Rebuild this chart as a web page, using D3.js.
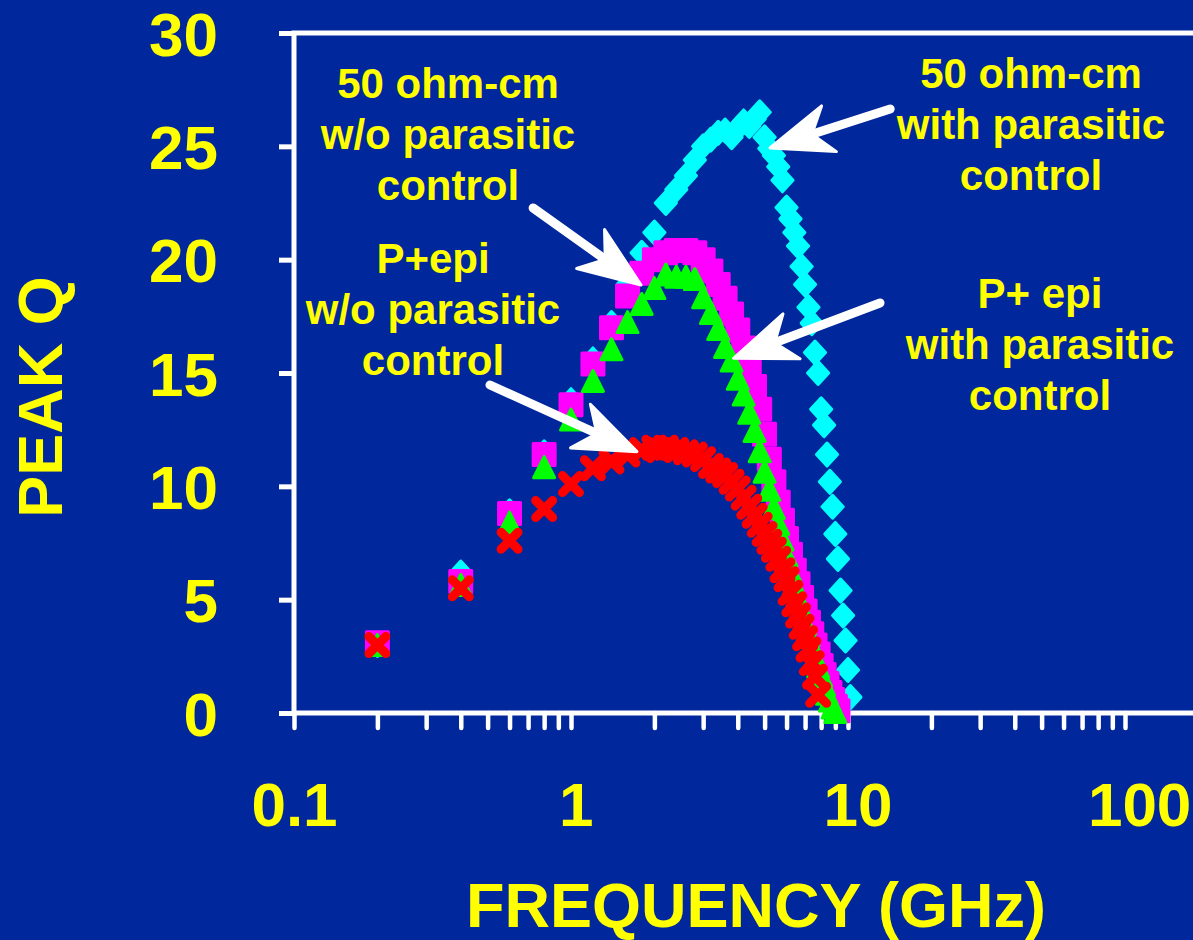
<!DOCTYPE html>
<html>
<head>
<meta charset="utf-8">
<script src="https://cdn.jsdelivr.net/npm/d3@7"></script>
<style>
  html, body { margin: 0; padding: 0; background: #00279b; }
  svg { display: block; }
  text { font-family: Arial, "Liberation Sans", sans-serif; font-weight: bold; fill: #ffff00; }
</style>
</head>
<body>
<svg id="chart" width="1193" height="940"></svg>
<script>
// Measurement frequencies (GHz), 0.2 GHz steps
const frequency = [0.2, 0.4, 0.6, 0.8, 1.0, 1.2, 1.4, 1.6, 1.8, 2.0,
  2.2, 2.4, 2.6, 2.8, 3.0, 3.2, 3.4, 3.6, 3.8, 4.0,
  4.2, 4.4, 4.6, 4.8, 5.0, 5.2, 5.4, 5.6, 5.8, 6.0,
  6.2, 6.4, 6.6, 6.8, 7.0, 7.2, 7.4, 7.6, 7.8, 8.0,
  8.2, 8.4, 8.6, 8.8, 9.0, 9.2, 9.4, 9.6, 9.8, 10.0, 10.2];

// Peak Q, 50 ohm-cm substrate with parasitic control
const q50With = [3.0, 6.2, 8.9, 11.5, 13.8, 15.6, 17.2, 18.9, 20.3, 21.2,
  22.5, 23.1, 23.7, 24.4, 25.0, 25.3, 25.6, 25.7, 25.4, 25.8,
  26.1, 25.9, 26.2, 26.5, 25.4, 24.9, 24.6, 24.1, 23.5, 22.3,
  21.8, 21.2, 20.6, 19.7, 18.9, 17.9, 17.2, 15.9, 15.0, 13.4,
  12.7, 11.4, 10.2, 9.1, 7.9, 6.8, 5.4, 4.3, 3.2, 1.9, 0.7];

// Peak Q, 50 ohm-cm substrate without parasitic control
const q50Without = [3.1, 5.8, 8.8, 11.4, 13.6, 15.4, 17.0, 18.4, 19.4, 20.0,
  20.3, 20.4, 20.4, 20.3, 20.0, 19.5, 18.9, 18.3, 17.6, 16.9,
  16.1, 15.3, 14.4, 13.4, 12.3, 11.2, 10.2, 9.3, 8.5, 7.7,
  7.0, 6.3, 5.7, 5.1, 4.5, 4.0, 3.5, 3.0, 2.6, 2.1,
  1.7, 1.3, 0.9, 0.6, 0.3, 0.1];

// Peak Q, P+ epi substrate with parasitic control
const qEpiWith = [2.95, 5.6, 8.35, 10.8, 12.9, 14.6, 16.0, 17.2, 18.0, 18.7,
  19.3, 19.2, 19.2, 19.1, 18.3, 17.6, 16.9, 16.1, 15.5, 14.7,
  14.0, 13.2, 12.4, 11.5, 10.6, 9.8, 9.0, 8.3, 7.6, 6.9,
  6.2, 5.6, 5.0, 4.5, 3.9, 3.4, 2.9, 2.4, 2.0, 1.6,
  1.2, 0.8, 0.5, 0.2, 0.0];

// Peak Q, P+ epi substrate without parasitic control
const qEpiWithout = [3.0, 5.5, 7.6, 9.0, 10.1, 10.8, 11.1, 11.4, 11.6, 11.7,
  11.7, 11.6, 11.5, 11.4, 11.2, 10.9, 10.7, 10.5, 10.2, 9.9,
  9.5, 9.1, 8.7, 8.3, 7.9, 7.55, 7.2, 6.8, 6.3, 5.9,
  5.3, 4.8, 4.3, 3.8, 3.3, 2.8, 2.2, 1.6, 0.8];

// Axis ticks
const yTickValues = [0, 5, 10, 15, 20, 25, 30];
const xTickLabels = [0.1, 1, 10, 100];

const W = 1193, H = 940;
const frame = { left: 294, top: 33, bottom: 713, right: 1215 };

const x = d3.scaleLog().domain([0.1, 100]).range([frame.left, 1125]);
const y = d3.scaleLinear().domain([0, 30]).range([frame.bottom, frame.top]);

const svg = d3.select("#chart");
svg.append("rect").attr("width", W).attr("height", H).attr("fill", "#00279b");

// Plot frame (runs off the right edge)
svg.append("rect")
  .attr("x", frame.left).attr("y", frame.top)
  .attr("width", frame.right - frame.left).attr("height", frame.bottom - frame.top)
  .attr("fill", "none").attr("stroke", "#ffffff").attr("stroke-width", 5);

// Y axis
const yAxis = svg.append("g")
  .attr("transform", `translate(${frame.left},0)`)
  .call(d3.axisLeft(y).tickValues(yTickValues).tickSize(15).tickPadding(61));
yAxis.select(".domain").remove();
yAxis.selectAll("line").attr("stroke", "#ffffff").attr("stroke-width", 5);
yAxis.selectAll("text")
  .attr("fill", "#ffff00").attr("font-size", 62)
  .attr("font-family", "Arial, 'Liberation Sans', sans-serif").attr("font-weight", "bold")
  .attr("dy", "0.36em");

// X axis: every decade subdivision gets a tick, only decades are labelled
const xAxis = svg.append("g")
  .attr("transform", `translate(0,${frame.bottom})`)
  .call(d3.axisBottom(x).tickValues(x.ticks()).tickSize(15).tickPadding(54)
    .tickFormat(d => xTickLabels.some(v => Math.abs(v - d) < 1e-9) ? String(d) : ""));
xAxis.select(".domain").remove();
xAxis.selectAll("line").attr("stroke", "#ffffff").attr("stroke-width", 4.5).attr("stroke-linecap", "round");
xAxis.selectAll("text")
  .attr("fill", "#ffff00").attr("font-size", 62)
  .attr("font-family", "Arial, 'Liberation Sans', sans-serif").attr("font-weight", "bold")
  .attr("dx", d => (x(d) - frame.left) * 0.017);

// Axis titles
svg.append("text")
  .attr("transform", "translate(62,397) rotate(-90)")
  .attr("text-anchor", "middle").attr("font-size", 63)
  .text("PEAK Q");
svg.append("text")
  .attr("x", 756).attr("y", 927)
  .attr("text-anchor", "middle").attr("font-size", 63)
  .text("FREQUENCY (GHz)");

// Marker shapes as d3 symbol types
const diamond = { draw(c, s) { const r = Math.sqrt(s) / 2;
  c.moveTo(0, -r); c.lineTo(r * 0.92, 0); c.lineTo(0, r); c.lineTo(-r * 0.92, 0); c.closePath(); } };
const square = { draw(c, s) { const r = Math.sqrt(s) / 2;
  c.moveTo(-r, -r); c.lineTo(r, -r); c.lineTo(r, r); c.lineTo(-r, r); c.closePath(); } };
const triangle = { draw(c, s) { const r = Math.sqrt(s) / 2;
  c.moveTo(0, -r * 1.1); c.lineTo(r, r * 0.9); c.lineTo(-r, r * 0.9); c.closePath(); } };
const cross = { draw(c, s) { const r = Math.sqrt(s) / 2;
  c.moveTo(-r, -r); c.lineTo(r, r); c.moveTo(r, -r); c.lineTo(-r, r); } };

const series = [
  { values: q50With,     color: "#00ffff", type: diamond,  size: 23 * 23, fill: true,  sw: 3 },
  { values: q50Without,  color: "#ff00ff", type: square,   size: 22 * 22, fill: true,  sw: 3 },
  { values: qEpiWith,    color: "#00ff00", type: triangle, size: 21 * 21, fill: true,  sw: 3 },
  { values: qEpiWithout, color: "#ff0000", type: cross,    size: 17 * 17, fill: false, sw: 9 }
];

series.forEach(s => {
  const pts = s.values.map((q, i) => ({ f: frequency[i], q }));
  svg.append("g").selectAll("path")
    .data(pts).join("path")
    .attr("transform", d => `translate(${x(d.f)},${y(d.q)})`)
    .attr("d", d3.symbol().type(s.type).size(s.size))
    .attr("fill", s.fill ? s.color : "none")
    .attr("stroke", s.color)
    .attr("stroke-width", s.sw)
    .attr("stroke-linejoin", "round")
    .attr("stroke-linecap", "round");
});

// Callout labels
const callouts = [
  { lines: ["50 ohm-cm", "w/o parasitic", "control"], cx: 448, top: 98 },
  { lines: ["50 ohm-cm", "with parasitic", "control"], cx: 1031, top: 88 },
  { lines: ["P+epi", "w/o parasitic", "control"], cx: 433, top: 273 },
  { lines: ["P+ epi", "with parasitic", "control"], cx: 1040, top: 308 }
];
callouts.forEach(c => {
  const t = svg.append("text").attr("text-anchor", "middle").attr("font-size", 42);
  c.lines.forEach((line, i) => {
    t.append("tspan").attr("x", c.cx).attr("y", c.top + i * 51).text(line);
  });
});

// Arrows from callouts to curves, in data coordinates (GHz, Q)
const arrows = [
  { from: [14.2, 26.65], to: [5.23, 24.93] },
  { from: [0.73, 22.28], to: [1.79, 18.88] },
  { from: [13.05, 18.09], to: [3.86, 15.65] },
  { from: [0.51, 14.47], to: [1.73, 11.53] }
];
const headLen = 62, headHalf = 24, notch = 18;
arrows.forEach(a => {
  const x0 = x(a.from[0]), y0 = y(a.from[1]);
  const x1 = x(a.to[0]), y1 = y(a.to[1]);
  const len = Math.hypot(x1 - x0, y1 - y0);
  const ux = (x1 - x0) / len, uy = (y1 - y0) / len;
  const nx = -uy, ny = ux;
  const bx = x1 - ux * headLen, by = y1 - uy * headLen;
  const mx = bx + ux * notch, my = by + uy * notch;
  svg.append("line")
    .attr("x1", x0).attr("y1", y0).attr("x2", mx).attr("y2", my)
    .attr("stroke", "#ffffff").attr("stroke-width", 9).attr("stroke-linecap", "round");
  svg.append("path")
    .attr("d", `M${x1},${y1}L${bx + nx * headHalf},${by + ny * headHalf}L${mx},${my}L${bx - nx * headHalf},${by - ny * headHalf}Z`)
    .attr("fill", "#ffffff").attr("stroke", "#ffffff").attr("stroke-width", 3).attr("stroke-linejoin", "round");
});
</script>
</body>
</html>
